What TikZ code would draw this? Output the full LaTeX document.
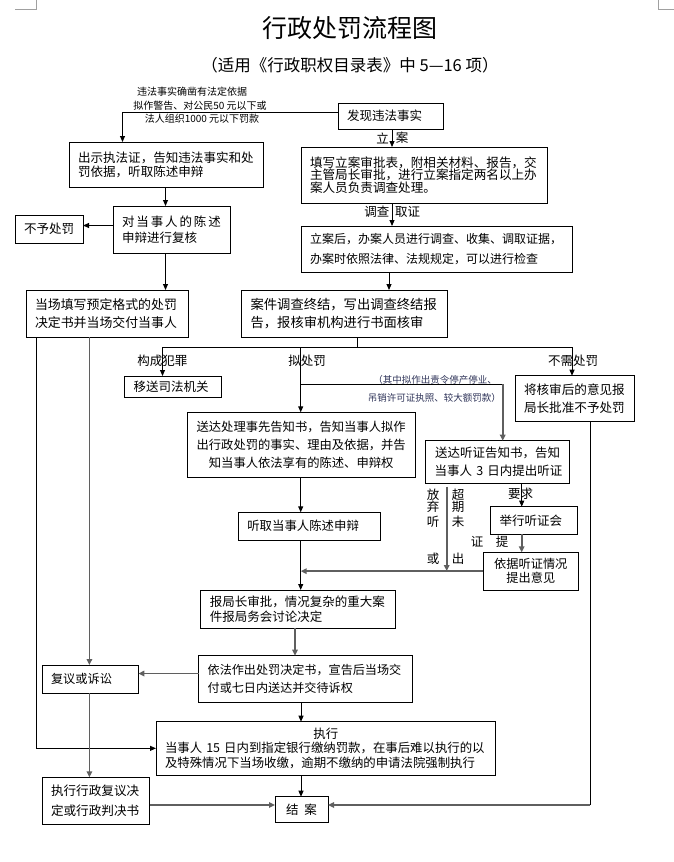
\documentclass[tikz,border=0pt]{standalone}
\usepackage{fontspec}
\setmainfont{Noto Sans CJK SC}
\usetikzlibrary{arrows.meta}
\newcommand\fs[2]{\fontsize{#1}{#2}\selectfont}
\definecolor{lgray}{HTML}{5F5F5F}
\definecolor{navy}{HTML}{2E3358}
\definecolor{markgray}{HTML}{A0A0A0}
\tikzset{
  box/.style={draw, line width=1pt, inner xsep=9pt, inner ysep=0pt, outer sep=0pt, align=left},
  cbox/.style={box, align=center},
  ln/.style={line width=0.9pt, black},
  arr/.style={ln, -{Triangle[length=6pt,width=5pt]}},
  gln/.style={line width=1.7pt, lgray},
  garr/.style={gln, -{Triangle[length=6pt,width=5.5pt]}},
  lbl/.style={inner sep=0pt, font=\fs{12.5}{14}},
  small/.style={inner sep=0pt, font=\fs{10}{12}},
  bsmall/.style={inner sep=0pt, font=\fs{9.5}{11}, text=navy}
}
\begin{document}
\begin{tikzpicture}[x=1pt,y=-1pt]
\useasboundingbox (0,0) rectangle (674,862);
% corner marks
\draw[markgray, line width=0.8pt] (15,9) -- (36.5,9) -- (36.5,0);
\draw[markgray, line width=0.8pt] (658,0) -- (658,9) -- (674,9);
% titles
\node[inner sep=0pt, font=\fs{25}{30}] (title) at (350,28) {行政处罚流程图};
\node[inner sep=0pt, font=\fs{16.5}{20}] (sub) at (350,65) {（适用《行政职权目录表》中~5—16~项）};
% boxes
\node[box, minimum width=105pt, minimum height=26pt, text width=87pt, font=\fs{12.5}{14}] (fx) at (390.5,116) {发现违法事实};
\node[box, minimum width=194pt, minimum height=45pt, text width=176pt, font=\fs{12.55}{14}] (cs) at (166,164.5) {出示执法证，告知违法事实和处\\罚依据，听取陈述申辩};
\node[box, minimum width=117pt, minimum height=47pt, text width=99pt, font=\fs{12.5}{16}] (dd) at (171.5,229.5) {对\kern1.9pt 当\kern1.9pt 事\kern1.9pt 人\kern1.9pt 的\kern1.9pt 陈\kern1.9pt 述\\申辩进行复核};
\node[cbox, minimum width=68pt, minimum height=28pt, text width=50pt, font=\fs{12.5}{14}] (bz) at (49,229) {不予处罚};
\node[box, minimum width=246pt, minimum height=56pt, text width=228pt, font=\fs{12.6}{12.5}] (tx) at (424,175) {填写立案审批表，附相关材料、报告，交\\主管局长审批，进行立案指定两名以上办\\案人员负责调查处理。};
\node[box, minimum width=271pt, minimum height=46pt, text width=253pt, font=\fs{12}{20}] (la) at (436.5,249) {立案后，办案人员进行调查、收集、调取证据，\\办案时依照法律、法规规定，可以进行检查};
\node[box, minimum width=162pt, minimum height=47pt, text width=144pt, font=\fs{12.9}{18}] (dc) at (107,313.5) {当场填写预定格式的处罚\\决定书并当场交付当事人};
\node[box, minimum width=205.4pt, minimum height=47pt, text width=187.4pt, font=\fs{13.3}{18}] (aj) at (344.3,313.5) {案件调查终结，写出调查终结报\\告，报核审机构进行书面核审};
\node[box, minimum width=96.3pt, minimum height=21pt, text width=78.3pt, font=\fs{12.5}{14}] (ys) at (172.85,386.5) {移送司法机关};
\node[box, minimum width=119.3pt, minimum height=46pt, text width=101.3pt, font=\fs{12.6}{18.7}] (jh) at (574.65,398.7) {将核审后的意见报\\局长批准不予处罚};
\node[cbox, minimum width=227.7pt, minimum height=65pt, text width=209.7pt, font=\fs{12.3}{18.3}] (sd) at (301.15,444.8) {送达处理事先告知书，告知当事人拟作\\出行政处罚的事实、理由及依据，并告\\知当事人依法享有的陈述、申辩权};
\node[cbox, minimum width=143.6pt, minimum height=42.6pt, text width=125.6pt, font=\fs{12.5}{17.7}] (sz) at (497.5,462) {送达听证告知书，告知\\当事人~3~日内提出听证};
\node[box, minimum width=142.4pt, minimum height=27.7pt, text width=124.4pt, font=\fs{12.4}{14}] (tq) at (309.5,526.15) {听取当事人陈述申辩};
\node[box, minimum width=86.6pt, minimum height=27.3pt, text width=68.6pt, font=\fs{12.5}{14}] (jx) at (534,520.35) {举行听证会};
\node[cbox, minimum width=95pt, minimum height=37.7pt, text width=77pt, font=\fs{12.2}{14.3}] (yj) at (530.8,571.15) {依据听证情况\\提出意见};
\node[box, minimum width=194.7pt, minimum height=38.3pt, text width=176.7pt, font=\fs{12.5}{15}] (bj) at (298.15,609.15) {报局长审批，情况复杂的重大案\\件报局务会讨论决定};
\node[box, minimum width=214pt, minimum height=46.6pt, text width=196pt, font=\fs{12.1}{18.3}] (yf) at (305.65,679) {依法作出处罚决定书，宣告后当场交\\付或七日内送达并交待诉权};
\node[box, minimum width=96.4pt, minimum height=28.3pt, text width=78.4pt, font=\fs{12.2}{14}] (fy) at (90.2,679.15) {复议或诉讼};
\node[box, minimum width=339.7pt, minimum height=53.3pt, text width=321.7pt, font=\fs{12.4}{14.7}] (zx) at (325.85,748.35) {\makebox[\linewidth][c]{执行}\\当事人~15~日内到指定银行缴纳罚款，在事后难以执行的以\\及特殊情况下当场收缴，逾期不缴纳的申请法院强制执行};
\node[box, minimum width=107.6pt, minimum height=47pt, text width=89.6pt, font=\fs{12.6}{19.3}] (zf) at (95.8,800.8) {执行行政复议决\\定或行政判决书};
\node[cbox, minimum width=53pt, minimum height=25.6pt, text width=35pt, font=\fs{12.5}{14}] (ja) at (301.5,809.5) {结\hspace{6pt}案};
% small labels
\node[small] (s1) at (192,92) {违法事实确凿有法定依据};
\node[small] (s2) at (200,106) {拟作警告、对公民50~元以下或};
\node[small] (s3) at (202,119) {法人组织1000~元以下罚款};
\node[lbl] (l1) at (382.5,138) {立};
\node[lbl] (l2) at (402,138) {案};
\node[lbl, anchor=east] (l3) at (389.5,212) {调查};
\node[lbl, anchor=west] (l4) at (395,212) {取证};
\node[lbl] (l5) at (162.3,361) {构成犯罪};
\node[lbl] (l6) at (307,361) {拟处罚};
\node[lbl] (l7) at (573,361) {不需处罚};
\node[bsmall, anchor=east] (b1) at (497,380) {（其中拟作出责令停产停业、};
\node[bsmall, anchor=east] (b2) at (501,398) {吊销许可证执照、较大额罚款）};
\node[lbl] (h1) at (433,495) {放};
\node[lbl] (h2) at (433,507) {弃};
\node[lbl] (h3) at (433,522) {听};
\node[lbl] (h4) at (433,559) {或};
\node[lbl] (h5) at (458,495) {超};
\node[lbl] (h6) at (458,507) {期};
\node[lbl] (h7) at (458,522) {未};
\node[lbl] (h8) at (458,559) {出};
\node[lbl] (h9) at (477,542) {证};
\node[lbl] (h10) at (502,542) {提};
\node[lbl] (h11) at (520.7,493.5) {要求};
% helper coordinates
\coordinate (xA) at (122.5,0);
\coordinate (xb) at (392,0);
\coordinate (xc) at (165.5,0);
\coordinate (xg) at (389,0);
\coordinate (sp) at (357.7,347);
\coordinate (sL) at (162.5,347);
\coordinate (sM) at (300.7,347);
\coordinate (sR) at (572,347);
\coordinate (bq) at (300.7,384);
\coordinate (bq2) at (502.7,384);
\coordinate (hz0) at (446.7,486.7);
\coordinate (hz) at (446.7,571);
\coordinate (xy) at (521.7,0);
\coordinate (xp) at (295,0);
\coordinate (xr) at (89.4,0);
\coordinate (xs) at (36.5,0);
\coordinate (xt) at (301,0);
\coordinate (yv) at (0,805);
\coordinate (xx) at (590.3,0);
\coordinate (a1) at ([yshift=4pt]fx.west);
\coordinate (d1) at ([yshift=4pt]dd.west);
\coordinate (q1) at ([yshift=5.5pt]yf.west);
% connectors
\draw[arr] (a1) -| (xA |- cs.north);
\draw[arr] (xb |- fx.south) -- (xb |- tx.north);
\draw[arr] (xc |- cs.south) -- (xc |- dd.north);
\draw[arr] (d1) -- (d1 -| bz.east);
\draw[arr] (xc |- dd.south) -- (xc |- dc.north);
\draw[arr] (xb |- tx.south) -- (xb |- la.north);
\draw[arr] (xg |- la.south) -- (xg |- aj.north);
\draw[ln] (sp |- aj.south) -- (sp);
\draw[ln] (sL) -- (sR);
\draw[arr] (sL) -- (sL |- ys.north);
\draw[arr] (sM) -- (sM |- sd.north);
\draw[arr] (sR) -- (sR |- jh.north);
\draw[ln] (bq) -- (bq2);
\draw[garr] (bq2) -- (bq2 |- sz.north);
\draw[arr] (sM |- sd.south) -- (sM |- tq.north);
\draw[arr] (sM |- tq.south) -- (sM |- bj.north);
\draw[garr] (hz0) -- (hz);
\draw[arr] (xy |- sz.south) -- (xy |- jx.north);
\draw[garr] (xy |- jx.south) -- (xy |- yj.north);
\draw[garr] (yj.west) -- (yj.west -| sM);
\draw[garr] (xp |- bj.south) -- (xp |- yf.north);
\draw[garr] (q1) -- (q1 -| fy.east);
\draw[garr] (xr |- dc.south) -- (xr |- fy.north);
\draw[arr] (xs |- dc.south) |- (zx.west);
\draw[arr] (xt |- yf.south) -- (xt |- zx.north);
\draw[garr] (xr |- fy.south) -- (xr |- zf.north);
\draw[garr] (zf.east |- yv) -- (ja.west |- yv);
\draw[arr] (xt |- zx.south) -- (xt |- ja.north);
\draw[ln] (xx |- jh.south) -- (xx |- yv);
\draw[garr] (xx |- yv) -- (ja.east |- yv);
\end{tikzpicture}
\end{document}
